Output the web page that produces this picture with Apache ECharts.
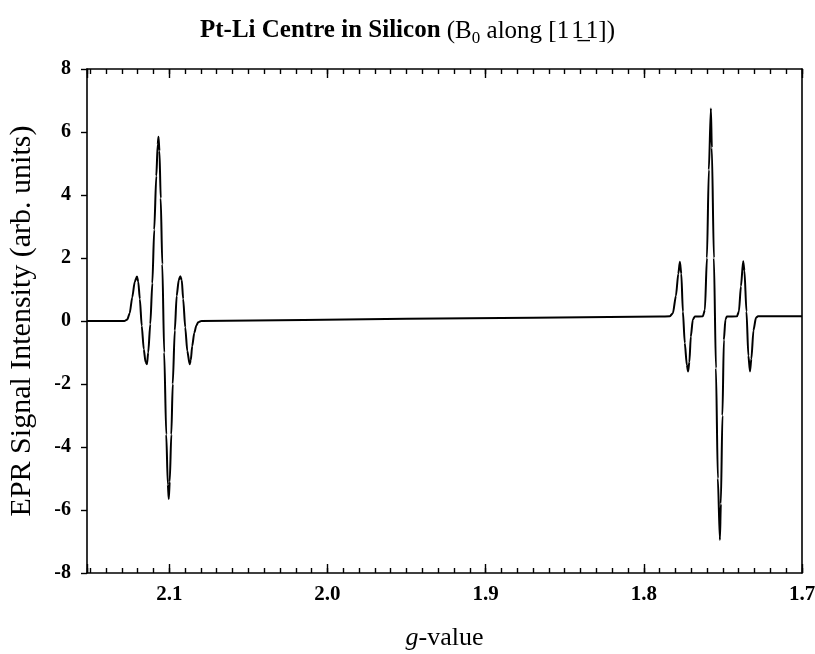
<!DOCTYPE html>
<html>
<head>
<meta charset="utf-8">
<title>Pt-Li Centre in Silicon</title>
<script src="https://cdn.jsdelivr.net/npm/echarts@6/dist/echarts.min.js"></script>
<style>
  html, body { margin: 0; padding: 0; background: #fff; }
  #chart { width: 815px; height: 654px; }
</style>
</head>
<body>
<div id="chart"></div>
<script>
// EPR spectrum: g-value (x) vs derivative signal intensity (y)
const gValues = [
  2.152, 2.1284, 2.1265, 2.1250, 2.1234, 2.1218, 2.1204, 2.1196, 2.1186, 2.1174,
  2.1161, 2.1150, 2.1141, 2.1133, 2.1120, 2.1107, 2.1095, 2.1082, 2.1073, 2.1068,
  2.1062, 2.1054, 2.1044, 2.1032, 2.1019, 2.1009, 2.1003, 2.0997, 2.0987, 2.0978,
  2.0965, 2.0953, 2.0940, 2.0930, 2.0921, 2.0912, 2.0899, 2.0886, 2.0871, 2.0864,
  2.0855, 2.0842, 2.0829, 2.0817, 2.0798, 1.9500,
  1.7899, 1.7835, 1.7816, 1.7797, 1.7782, 1.7772, 1.7763, 1.7753, 1.7741, 1.7728,
  1.7720, 1.7712, 1.7703, 1.7690, 1.7677, 1.7627, 1.7614, 1.7601, 1.7589, 1.7576,
  1.7570, 1.7557, 1.7544, 1.7532, 1.7519, 1.7513, 1.7503, 1.7494, 1.7484, 1.7475,
  1.7411, 1.7399, 1.7386, 1.7372, 1.7364, 1.7351, 1.7339, 1.7329, 1.7320, 1.7307,
  1.7291, 1.7278, 1.7000
];
const intensity = [
  0, 0, 0.05, 0.25, 0.75, 1.25, 1.41, 1.25, 0.7, -0.15,
  -0.9, -1.3, -1.37, -1.0, -0.1, 1.2, 2.9, 4.6, 5.6, 5.85,
  5.4, 3.9, 1.8, -1.0, -3.6, -5.2, -5.65, -5.1, -3.6, -2.0,
  -0.3, 0.8, 1.3, 1.42, 1.3, 0.7, -0.2, -0.95, -1.37, -1.25,
  -0.8, -0.38, -0.15, -0.04, 0, 0.07,
  0.14, 0.15, 0.25, 0.8, 1.5, 1.88, 1.5, 0.3, -0.7, -1.4,
  -1.6, -1.3, -0.5, 0.05, 0.14, 0.15, 0.35, 2.0, 4.8, 6.75,
  5.5, 2.0, -1.5, -5.0, -6.95, -5.8, -3.0, -0.6, 0.05, 0.14,
  0.15, 0.3, 1.1, 1.9, 1.6, 0.3, -1.1, -1.6, -1.2, -0.3,
  0.1, 0.15, 0.15
];
const xTickLabels = ['1.7', '1.8', '1.9', '2.0', '2.1'];
const yTickLabels = ['-8', '-6', '-4', '-2', '0', '2', '4', '6', '8'];

const serif = '"Liberation Serif", "Times New Roman", serif';
const black = '#000';
const xMin = 1.7, xMax = 2.152;

function majorLabel(v) {
  const hit = xTickLabels.find(t => Math.abs(parseFloat(t) - v) < 1e-6);
  return hit || '';
}
function yLabel(v) {
  const hit = yTickLabels.find(t => Math.abs(parseFloat(t) - v) < 1e-6);
  return hit || '';
}

function xAxisDef(position, interval, tickLen, showLine, showLabels) {
  return {
    type: 'value', position: position, min: xMin, max: xMax, inverse: true,
    interval: interval,
    axisLine: { show: showLine, onZero: false, lineStyle: { color: black, width: 1.6 } },
    axisTick: { show: true, inside: true, length: tickLen, lineStyle: { color: black, width: 1.4 } },
    axisLabel: showLabels ? {
      show: true, margin: 11, color: black, fontFamily: serif, fontWeight: 'bold', fontSize: 21,
      formatter: majorLabel
    } : { show: false },
    splitLine: { show: false }
  };
}

const chart = echarts.init(document.getElementById('chart'), null, { renderer: 'canvas' });
chart.setOption({
  animation: false,
  backgroundColor: '#fff',
  title: {
    left: 'center', top: 10,
    text: '{b|Pt-Li Centre in Silicon }{r|(B}{s|0}{r| along [1\u200A1\u0332\u200A1])}',
    textStyle: {
      rich: {
        b: { fontFamily: serif, fontWeight: 'bold', fontSize: 25, color: black, lineHeight: 32 },
        r: { fontFamily: serif, fontWeight: 'normal', fontSize: 25, color: black, lineHeight: 32 },
        s: { fontFamily: serif, fontWeight: 'normal', fontSize: 17, color: black, lineHeight: 16, verticalAlign: 'bottom' }
      }
    }
  },
  grid: { left: 87, right: 13, top: 69, bottom: 81, containLabel: false, outerBoundsMode: 'none' },
  xAxis: [
    Object.assign(xAxisDef('bottom', 0.1, 9, true, true), {
      name: '{i|g}{n|-value}', nameLocation: 'middle', nameGap: 52,
      nameMoveOverlap: false,
      nameTextStyle: {
        rich: {
          i: { fontFamily: serif, fontStyle: 'italic', fontSize: 26, color: black },
          n: { fontFamily: serif, fontSize: 26, color: black }
        }
      }
    }),
    xAxisDef('bottom', 0.01, 5, false, false),
    xAxisDef('top', 0.1, 9, true, false),
    xAxisDef('top', 0.01, 5, false, false)
  ],
  yAxis: [
    {
      type: 'value', position: 'left', min: -8, max: 8, interval: 2,
      name: 'EPR Signal Intensity (arb. units)', nameLocation: 'middle', nameGap: 50,
      nameMoveOverlap: false,
      nameTextStyle: { fontFamily: serif, fontSize: 30, color: black },
      axisLine: { show: true, onZero: false, lineStyle: { color: black, width: 1.6 } },
      axisTick: { show: true, inside: false, length: 6, lineStyle: { color: black, width: 1.4 } },
      axisLabel: { margin: 16, color: black, fontFamily: serif, fontWeight: 'bold', fontSize: 20, formatter: yLabel },
      splitLine: { show: false }
    },
    {
      type: 'value', position: 'right', min: -8, max: 8, interval: 2,
      axisLine: { show: true, onZero: false, lineStyle: { color: black, width: 1.6 } },
      axisTick: { show: false }, axisLabel: { show: false }, splitLine: { show: false }
    }
  ],
  series: [{
    type: 'line',
    xAxisIndex: 0, yAxisIndex: 0,
    data: gValues.map((g, i) => [g, intensity[i]]),
    showSymbol: false,
    smooth: 0.25,
    smoothMonotone: 'x',
    lineStyle: { color: black, width: 2 }
  }]
});
</script>
</body>
</html>
